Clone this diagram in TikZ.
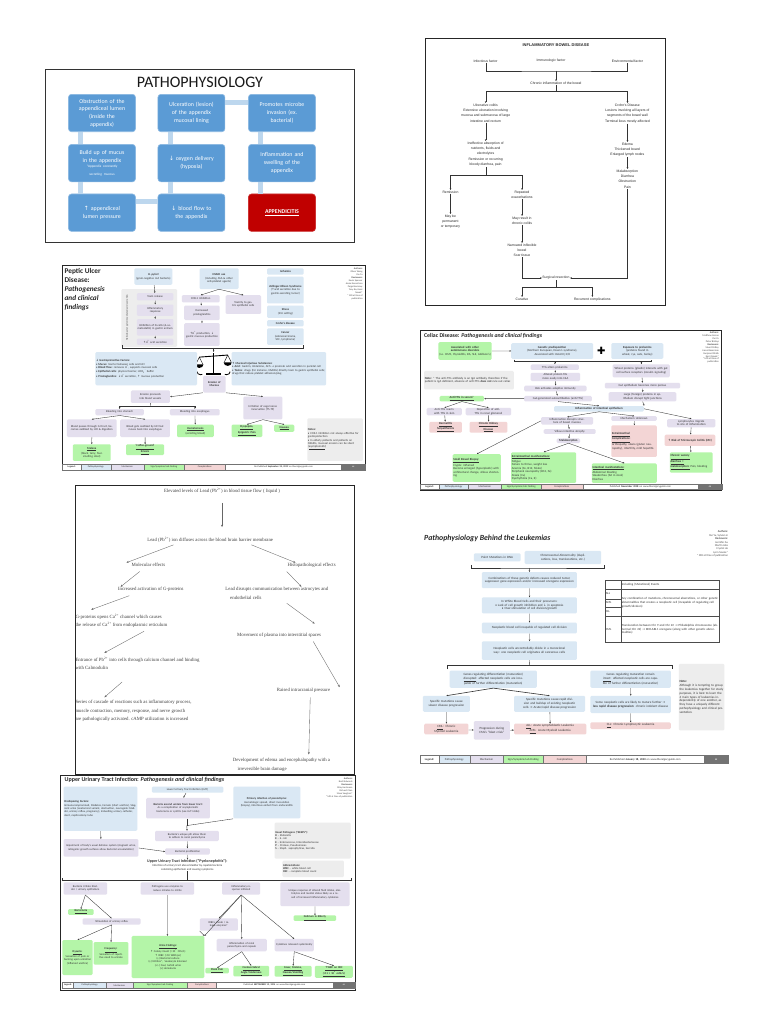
\documentclass[tikz,border=0pt]{standalone}
\usepackage{fontspec}
\setmainfont{Carlito}
\newfontfamily\serifr{Liberation Serif}
\newfontfamily\arialf{Liberation Sans}
\newfontfamily\djv{DejaVu Sans}
\usetikzlibrary{arrows.meta,calc}
\newcommand\uarr{{\djv ↑}}
\newcommand\darr{{\djv ↓}}
\newcommand\rarr{{\djv →}}
\definecolor{apblue}{HTML}{5B9BD5}
\definecolor{apbarc}{HTML}{BDD7EE}
\definecolor{apred}{HTML}{C00000}
\definecolor{cgpp}{HTML}{DAE8F4}
\definecolor{cgme}{HTML}{E4DFEE}
\definecolor{cgsg}{HTML}{B4F5A8}
\definecolor{cgco}{HTML}{F3D5D5}
\definecolor{cgno}{HTML}{EDEDED}
\definecolor{inkc}{HTML}{333333}
\def\psx{1}\def\psy{1}
\newcommand\mkbox[7]{%
  \pgfmathsetmacro\mkw{(#5-#3)*\psx}%
  \pgfmathsetmacro\mkh{(#6-#4)*\psy}%
  \pgfmathsetmacro\mktw{max((#5-#3)*\psx-1.4,1)}%
  \node[#2, anchor=north west, minimum width=\mkw pt, minimum height=\mkh pt, text width=\mktw pt] (#1) at (#3,#4) {#7};}
\newcommand\mkleg[9]{%
  \mkbox{#1l0}{lg}{#4}{#2}{#5}{#3}{\textbf{Legend:}}%
  \mkbox{#1l1}{lg,fill=cgpp}{#5}{#2}{#6}{#3}{Pathophysiology}%
  \mkbox{#1l2}{lg,fill=cgme}{#6}{#2}{#7}{#3}{Mechanism}%
  \mkbox{#1l3}{lg,fill=cgsg}{#7}{#2}{#8}{#3}{Sign/Symptom/Lab Finding}%
  \mkbox{#1l4}{lg,fill=cgco}{#8}{#2}{#9}{#3}{Complications}}
\newcommand\mklegb[7]{%
  \mkbox{#1l5}{lg}{#4}{#2}{#5}{#3}{#7}%
  \mkbox{#1l6}{lg,fill=black!55,text=white}{#5}{#2}{#6}{#3}{\textbf{cc}}}
\tikzset{
 panelframe/.style={draw=black!85, line width=0.7pt},
 apbox/.style={rounded corners=3pt, fill=apblue, draw=apblue!70!white, line width=0.6pt, text=white, align=center, font=\fontsize{5.9}{7.7}\selectfont, minimum width=67pt, minimum height=37.4pt, text width=63pt, inner sep=1pt},
 apbar/.style={draw=apbarc, line width=5pt},
 ibd/.style={font=\arialf\fontsize{3.4}{5.4}\selectfont, align=center, inner sep=0.4pt, text=black!85},
 iar/.style={draw=black!80, line width=0.35pt},
 iarr/.style={iar, -{Stealth[length=1.8pt,width=1.6pt]}},
 cg/.style={rounded corners=1.2pt, inner sep=0.6pt, align=center, font=\fontsize{2.5}{3}\selectfont, text=inkc},
 cgl/.style={cg, align=left},
 arr/.style={-{Stealth[length=1.7pt,width=1.5pt]}, line width=0.35pt, draw=black!80},
 ln/.style={line width=0.35pt, draw=black!80},
 lg/.style={draw=black!55, line width=0.2pt, inner sep=0.3pt, align=center, font=\fontsize{2.1}{2.5}\selectfont, text=inkc},
 auth/.style={anchor=north east, align=right, inner sep=0, font=\fontsize{2.1}{2.6}\selectfont, text=black!70},
 leadt/.style={font=\serifr\fontsize{4.8}{8.6}\selectfont, inner sep=0.3pt, text=black!75, align=left},
 larr/.style={-{Stealth[length=2.4pt,width=2pt]}, line width=0.35pt, draw=black!60},
 tbl/.style={draw=black!70, line width=0.25pt, inner sep=0.6pt, font=\fontsize{3.1}{3.7}\selectfont, text=inkc},
}
\begin{document}
\begin{tikzpicture}[x=1pt,y=-1pt]
\useasboundingbox (0,0) rectangle (768,1024);
\fill[white] (0,0) rectangle (768,1024);

% ================= PATHOPHYSIOLOGY (appendicitis)
\begin{scope}[shift={(45,70)}, xscale=1.065, yscale=1.012, shift={(-51,-70)}]
\draw[draw=black!80, line width=1pt] (51,70) rectangle (342,240);
\node[font=\fontsize{16}{16}\selectfont, text=black!90, inner sep=0] (apt) at (196.5,82) {PATHOPHYSIOLOGY};
\node[apbox] (ap1) at (104.5,112.5) {Obstruction of the\\appendiceal lumen\\(inside the\\appendix)};
\node[apbox] (ap2) at (104.5,162) {Build up of mucus\\in the appendix\\[1pt]{\fontsize{3.4}{4.2}\selectfont *Appendix constantly\\secreting mucous}};
\node[apbox] (ap3) at (104.5,211) {\uarr\ appendiceal\\lumen pressure};
\node[apbox] (ap4) at (188.5,211) {\darr\ blood flow to\\the appendix};
\node[apbox] (ap5) at (188.5,162) {\darr\ oxygen delivery\\(hypoxia)};
\node[apbox] (ap6) at (188.5,112.5) {Ulceration (lesion)\\of the appendix\\mucosal lining};
\node[apbox] (ap7) at (273.5,112.5) {Promotes microbe\\invasion (ex.\\bacterial)};
\node[apbox] (ap8) at (273.5,162) {Inflammation and\\swelling of the\\appendix};
\node[apbox, fill=apred, draw=apred!80!white] (ap9) at (273.5,211) {\textbf{\underline{APPENDICITIS}}};
\draw[apbar] ($(ap1.south west)+(12,0)$) -- ($(ap2.north west)+(12,0)$);
\draw[apbar] ($(ap2.south west)+(12,0)$) -- ($(ap3.north west)+(12,0)$);
\draw[apbar] ($(ap3.north east)+(0,8)$) -- ($(ap4.north west)+(0,8)$);
\draw[apbar] ($(ap4.north west)+(12,0)$) -- ($(ap5.south west)+(12,0)$);
\draw[apbar] ($(ap5.north west)+(12,0)$) -- ($(ap6.south west)+(12,0)$);
\draw[apbar] ($(ap6.north east)+(0,8)$) -- ($(ap7.north west)+(0,8)$);
\draw[apbar] ($(ap7.south west)+(12,0)$) -- ($(ap8.north west)+(12,0)$);
\draw[apbar] ($(ap8.south west)+(12,0)$) -- ($(ap9.north west)+(12,0)$);
\end{scope}

% ================= IBD
\begin{scope}[shift={(425,38)}, xscale=1.212, shift={(-424,-38)}]
\draw[draw=black!85, line width=0.6pt] (424,38) rectangle (622,305);
\node[ibd, font=\arialf\bfseries\fontsize{4}{4.5}\selectfont] (ibt) at (532,45) {INFLAMMATORY BOWEL DISEASE};
\node[ibd] (ib1) at (474,61) {Infectious factor};
\node[ibd] (ib2) at (528,61) {Immunologic factor};
\node[ibd] (ib3) at (591,61) {Environmental factor};
\coordinate (ibj1) at (532,71);
\draw[iar] (ib1.south) |- (ibj1) -| (ib3.south);
\node[ibd] (ibch) at (532,83) {Chronic inflammation of the bowel};
\draw[iarr] (ibj1) -- (ibch.north);
\coordinate (ibj2) at (532,91);
\draw[iar] (ibch.south) -- (ibj2);
\node[ibd, anchor=north] (ibuc) at (474,103) {Ulcerative colitis\\Extensive ulceration involving\\mucosa and submucosa of large\\intestine and rectum};
\node[ibd, anchor=north] (ibcd) at (591,103) {Crohn's Disease\\Lesions involving all layers of\\segments of the bowel wall\\Terminal ileus mostly affected};
\draw[iarr] (ibj2) -| (ibuc.north);
\draw[iarr] (ibj2) -| (ibcd.north);
\node[ibd, anchor=north] (ibua) at (474,141) {Ineffective absorption of\\nutrients, fluids and\\electrolytes\\Remission or recurring\\bloody diarrhea, pain};
\draw[iarr] (ibuc.south) -- (ibua.north);
\node[ibd, anchor=north] (ibce) at (591,142) {Edema\\Thickened bowel\\Enlarged lymph nodes};
\draw[iarr] (ibcd.south) -- (ibce.north);
\node[ibd, anchor=north] (ibcm) at (591,169) {Malabsorption\\Diarrhea\\Obstruction\\Pain};
\draw[iarr] (ibce.south) -- (ibcm.north);
\coordinate (ibj3) at (474,175);
\draw[iar] (ibua.south) -- (ibj3);
\node[ibd, anchor=north] (ibrm) at (445,190) {Remission};
\node[ibd, anchor=north] (ibrx) at (504,190) {Repeated\\exacerbations};
\draw[iarr] (ibj3) -| (ibrm.north);
\draw[iarr] (ibj3) -| (ibrx.north);
\node[ibd, anchor=north] (ibmp) at (445,214) {May be\\permanent\\or temporary};
\draw[iarr] (ibrm.south) -- (ibmp.north);
\node[ibd, anchor=north] (ibmc) at (504,216) {May result in\\chronic colitis};
\draw[iarr] (ibrx.south) -- (ibmc.north);
\node[ibd, anchor=north] (ibnb) at (504,243) {Narrowed inflexible\\bowel\\Scar tissue};
\draw[iarr] (ibmc.south) -- (ibnb.north);
\node[ibd] (ibsr) at (532,278) {Surgical resection};
\draw[iarr] (ibnb.south) |- (ibsr.west);
\draw[iarr] (ibcm.south) |- (ibsr.east);
\coordinate (ibj4) at (532,287);
\draw[iar] (ibsr.south) -- (ibj4);
\node[ibd, anchor=north] (ibcu) at (504,297) {Curative};
\node[ibd, anchor=north] (ibrc) at (562,297) {Recurrent complications};
\draw[iarr] (ibj4) -| (ibcu.north);
\draw[iarr] (ibj4) -| (ibrc.north);
\end{scope}

% ================= PEPTIC ULCER
\begin{scope}[shift={(62,265)}, xscale=1.184, yscale=1.035, shift={(-69,-269)}]
\def\psx{1.184}\def\psy{1.035}
\tikzset{cg/.append style={font=\fontsize{2.9}{3.4}\selectfont}, lg/.append style={font=\fontsize{2.4}{2.8}\selectfont}, auth/.append style={font=\fontsize{2.4}{3}\selectfont}}
\draw[panelframe] (69,269) rectangle (325,467);
\node[anchor=north west, font=\bfseries\fontsize{7.3}{8.9}\selectfont, text=black!85, align=left, inner sep=0] (put) at (71,272) {Peptic Ulcer\\Disease:\\\textit{Pathogenesis}\\\textit{and clinical}\\\textit{findings}};
\node[auth] (pua) at (323,272) {\textbf{Authors:}\\Oliver Wong\\Yan Yu\\\textbf{Reviewers:}\\Kevin Spenser\\Annie Kosovitson\\Paige Bevinney\\Tony Bu, Kami\\Novak*\\* MD at time of\\publication};
\mkbox{puhp}{cg,fill=cgpp}{130}{272}{162}{288}{\textbf{\textit{H. pylori}}\\(gram-negative rod bacteria)}
\mkbox{puhg}{cg,fill=cgno}{119}{292}{166}{348}{}
\node[rotate=90, font=\fontsize{2.6}{3}\selectfont, text=black!70, inner sep=0] (puvl) at (124,320) {Helicobacter pylori-mediated acid secretion};
\mkbox{putx}{cg,fill=cgme}{132}{296}{163}{303}{Toxin release}
\mkbox{puir}{cg,fill=cgme}{132}{307}{163}{318}{Inflammatory\\response}
\mkbox{puid}{cg,fill=cgme}{132}{321}{163}{337}{Inhibition of D-cells (\& somatostatin) in gastric antrum}
\mkbox{puha}{cg,fill=cgme}{132}{340}{163}{346}{\uarr H\textsuperscript{+} acid secretion}
\draw[arr] (puhp) -- (putx);
\draw[arr] (putx) -- (puir);
\draw[arr] (puir) -- (puid);
\draw[arr] (puid) -- (puha);
\mkbox{puns}{cg,fill=cgpp}{185}{272}{218}{292}{\textbf{NSAID use}\\(including ASA \& other anti-platelet agents)}
\mkbox{puc1}{cg,fill=cgme}{170}{298}{202}{305}{COX-1 inhibition}
\mkbox{putc}{cg,fill=cgme}{207}{298}{237}{316}{Toxicity to gastric epithelial cells}
\mkbox{pudp}{cg,fill=cgme}{172}{308}{202}{322}{Decreased\\prostaglandins}
\mkbox{puhm}{cg,fill=cgme}{172}{325}{202}{347}{\uarr H\textsuperscript{+} production, \darr\ gastric mucous production}
\draw[arr] (puns.south) -- (puc1.north);
\draw[arr] (puns.south) -- (putc.north);
\draw[arr] (puc1) -- (pudp);
\draw[arr] (pudp) -- (puhm);
\mkbox{puis}{cg,fill=cgpp}{242}{272}{273}{278}{\textbf{Ischemia}}
\mkbox{puze}{cg,fill=cgpp}{242}{280}{273}{306}{\textbf{Zollinger-Ellison Syndrome}\\(\uarr acid secretion due to gastrin-secreting tumor)}
\mkbox{pust}{cg,fill=cgpp}{242}{308}{273}{320}{\textbf{Stress}\\(ICU setting)}
\mkbox{pucr}{cg,fill=cgpp}{242}{322}{273}{328}{\textbf{Crohn's disease}}
\mkbox{puca}{cg,fill=cgpp}{242}{330}{273}{346}{\textbf{Cancer}\\(adenocarcinoma, SCC, lymphoma)}
\coordinate (pub1) at (120,346); \coordinate (pub2) at (273,346); \coordinate (pubc) at (197,349);
\draw[ln] (pub1) |- (pubc) -| (pub2);
\coordinate (pusc) at (197,353);
\draw[arr] (pubc) -- (pusc);
\draw[line width=1.2pt] (197,354) -- (197,374);
\draw[line width=1.6pt] (191,374.5) -- (203,374.5);
\draw[line width=0.9pt] (185,358) -- (209,356);
\draw[line width=0.4pt] (182,365) -- (185,358) -- (188,365) (206,363) -- (209,356) -- (212,363);
\fill (181.5,365) arc[start angle=180, end angle=0, radius=3.5] -- cycle;
\fill (205.5,363) arc[start angle=180, end angle=0, radius=3.5] -- cycle;
\draw[line width=0.8pt] (183,372) arc[start angle=180, end angle=60, radius=3];
\draw[line width=0.8pt] (211,372) arc[start angle=0, end angle=120, radius=3];
\mkbox{pugf}{cgl,fill=cgpp}{97}{353}{183}{385}{\textbf{\darr\ Gastroprotective Factors:}\\• \textbf{Mucus}: barrier between cells and HCl\\• \textbf{Blood flow}: removes H\textsuperscript{+}, supports mucosal cells\\• \textbf{Epithelial cells}: physical barrier, HCO\textsubscript{3}\textsuperscript{-} buffer\\• \textbf{Prostaglandins}: \darr H\textsuperscript{+} secretion, \uarr\ mucous production}
\mkbox{pumi}{cgl,fill=cgpp}{212}{353}{292}{385}{\textbf{\uarr\ Mucosal Injurious Substances:}\\• \textbf{Acid}: Gastrin, Histamine, ACh \rarr\ promote acid secretion in parietal cell\\• \textbf{Toxins}: drugs (for instance, NSAIDs) directly toxic to gastric epithelial cells; drugs that reduce platelet adhesion/plug}
\mkbox{puer}{cg,fill=cgme}{188}{376}{207}{392}{\textbf{Erosion of Mucosa}}
\mkbox{puep}{cg,fill=cgme}{127}{390}{160}{402}{Erosion proceeds into blood vessels}
\mkbox{puiv}{cg,fill=cgme}{222}{396}{255}{418}{Irritation of vagal nerve innervation (T5-T9)}
\draw[arr] (puer.south west) -- (puep.east);
\draw[arr] (puer.south east) -- (puiv.north);
\mkbox{pubs}{cg,fill=cgme}{97}{408}{138}{414}{Bleeding into stomach}
\mkbox{pube}{cg,fill=cgme}{160}{408}{202}{414}{Bleeding into esophagus}
\coordinate (pubj) at (143.5,405);
\draw[ln] (puep.south) -- (pubj);
\draw[arr] (pubj) -| (pubs.north);
\draw[arr] (pubj) -| (pube.north);
\mkbox{pub1b}{cg,fill=cgme}{73}{418}{115}{435}{Blood passes through GI tract, becomes oxidized by HCl \& digestion}
\mkbox{pub2b}{cg,fill=cgme}{118}{418}{160}{435}{Blood gets oxidized by HCl but moves back into esophagus}
\draw[arr] (pubs.south) -- (pub1b.north);
\draw[arr] (pubs.south) -- (pub2b.north);
\mkbox{pume}{cg,fill=cgsg}{78}{442}{110}{458}{\textbf{\underline{Melena}}\\(black, tarry, foul-smelling stool)}
\mkbox{pucg}{cg,fill=cgsg}{123}{442}{155}{451}{\textbf{\underline{`Coffee-ground'}}\\\textbf{\underline{Emesis}}}
\mkbox{puhe}{cg,fill=cgsg}{166}{423}{197}{435}{\textbf{\underline{Hematemesis}}\\(vomiting blood)}
\mkbox{pudy}{cg,fill=cgsg}{212}{423}{238}{435}{\textbf{\underline{Dyspepsia,}}\\\textbf{\underline{Epigastric Pain}}}
\mkbox{puna}{cg,fill=cgsg}{248}{423}{265}{430}{\textbf{\underline{Nausea}}}
\draw[arr] (pub1b) -- (pume);
\draw[arr] (pub2b) -- (pucg);
\draw[arr] (pube) -- (puhe);
\draw[arr] (puiv.south) -- (pudy.north);
\draw[arr] (puiv.south) -- (puna.north);
\mkbox{punt}{cgl,fill=cgno}{276}{417}{323}{458}{\textbf{Notes:}\\• COX-1 inhibitors not always effective for gastroprotection\\• In elderly patients and patients on NSAIDs, mucosal erosion can be silent (\underline{asymptomatic})}
\mkleg{pu}{461}{467}{69}{85}{110}{138}{172}{207}
\mklegb{pu}{461}{467}{207}{305}{325}{Re-Published \textbf{September 25, 2019} on thecalgaryguide.com}
\end{scope}

% ================= CELIAC
\begin{scope}[shift={(420,330)}, xscale=1.3, yscale=0.925, shift={(-420,-331)}]
\def\psx{1.3}\def\psy{0.925}
\tikzset{cg/.append style={font=\fontsize{3}{3.5}\selectfont}, lg/.append style={font=\fontsize{2.6}{3}\selectfont}, auth/.append style={font=\fontsize{2.5}{2.9}\selectfont}}
\draw[panelframe] (420,331) rectangle (652,504);
\node[anchor=west, font=\bfseries\fontsize{5.8}{6}\selectfont, text=black!85, inner sep=0] (cet) at (423,337) {Celiac Disease: \textit{Pathogenesis and clinical findings}};
\node[auth] (cea) at (650,333) {\textbf{Authors:}\\Matthew Inscoe\\Yan Yu\\Peter Bishop\\\textbf{Reviewers:}\\Stuart Pettey\\Jason Baserman\\Gurpreet Malik\\Kerri Novak*\\* MD at time of\\publication};
\mkbox{ceao}{cg,fill=cgsg}{434}{344}{475}{363}{\textbf{Associated with other autoimmune disorders}\\(i.e. DM1, thyroiditis, RA, SLE, Addison's)}
\mkbox{cegp}{cg,fill=cgpp}{490}{345}{553}{362}{\textbf{Genetic predisposition}\\(Northern European, Down's syndrome),\\Associated with HLA-DQ 2/8}
\node[font=\djv\fontsize{10}{10}\selectfont, inner sep=0] (cepl) at (559.5,353.5) {✚};
\mkbox{ceex}{cg,fill=cgpp}{567}{345}{607}{362}{\textbf{Exposure to prolamins}\\(proteins found in wheat, rye, oats, barley)}
\draw[arr] (ceao) -- (cegp);
\coordinate (ceb1) at (492,363); \coordinate (ceb2) at (598,363); \coordinate (cebc) at (545,365);
\draw[ln] (ceb1) |- (cebc) -| (ceb2);
\mkbox{ce1}{cg,fill=cgme}{505}{368}{542}{374}{TTG alters prolamins}
\mkbox{ce2}{cg,fill=cgme}{505}{377}{543}{386}{Altered protein fits more easily into HLA}
\mkbox{ce3}{cg,fill=cgme}{500}{391}{548}{397}{HLA activates adaptive immunity}
\mkbox{ce4}{cg,fill=cgme}{500}{402}{552}{408}{Gut-generated autoantibodies (anti-TTG)}
\mkbox{cw1}{cg,fill=cgme}{568}{368}{612}{382}{Wheat proteins (gliadin) interacts with gut cell surface receptors (zonulin signaling)}
\mkbox{cw2}{cg,fill=cgme}{562}{388}{620}{394}{Gut epithelium becomes more porous}
\mkbox{cw3}{cg,fill=cgme}{565}{398}{617}{408}{Large (foreign) proteins in epithelium disrupt tight junctions}
\draw[arr] (cebc -| ce1.north) -- (ce1.north);
\draw[arr] (cebc -| cw1.north) -- (cw1.north);
\draw[arr] (ce1) -- (ce2);
\draw[arr] (ce2) -- (ce3);
\draw[arr] (ce3) -- (ce4);
\draw[arr] (cw1) -- (cw2);
\draw[arr] (cw2) -- (cw3);
\mkbox{cent}{cgl,fill=cgno}{423}{375}{492}{395}{\textbf{Note:} * The anti-TTG antibody is an IgA antibody, therefore if the patient is IgA deficient, absence of anti-TTG \textbf{does not} rule out celiac}
\mkbox{ceat}{cg,fill=cgsg}{435}{402}{469}{408}{\textbf{\underline{Anti-TTG in serum*}}}
\draw[arr] (ce4) -- (ceat);
\mkbox{cein}{cg,fill=cgpp}{523}{413}{592}{419}{\textbf{Inflammation of intestinal epithelium}}
\draw[arr] (ce4.south) -- (cein.north);
\draw[arr] (cw3.south) -- (cein.north east);
\mkbox{ces1}{cg,fill=cgme}{425}{415}{452}{423}{Anti-TTG reacts with TTG in skin}
\mkbox{ces2}{cg,fill=cgme}{455}{415}{490}{423}{Deposition of anti-TTG in renal glomeruli}
\draw[arr] (ceat.south) -- (ces1.north);
\draw[arr] (ceat.south) -- (ces2.north);
\mkbox{ced1}{cg,fill=cgco}{427}{430}{452}{440}{\textbf{\underline{Dermatitis}}\\\textbf{\underline{herpetiformis}}}
\mkbox{ced2}{cg,fill=cgco}{458}{430}{487}{440}{\textbf{\underline{Chronic Kidney}}\\\textbf{\underline{Disease}}}
\draw[arr] (ces1) -- (ced1);
\draw[arr] (ces2) -- (ced2);
\mkbox{ceid}{cg,fill=cgme}{513}{425}{553}{433}{Inflammation disrupts structure of bowel mucosa}
\mkbox{cemu}{cg,fill=cgme}{567}{424}{602}{429}{Mechanism Unknown}
\mkbox{cely}{cg,fill=cgme}{610}{427}{647}{436}{Lymphocytes migrate to site of inflammation}
\draw[arr] (cein.south) -- (ceid.north);
\draw[arr] (cein.south) -- (cemu.north);
\draw[arr] (cein.east) -- (cely.north);
\mkbox{ceva}{cg,fill=cgme}{515}{438}{555}{443}{Villous intestine atrophy}
\mkbox{cema}{cg,fill=cgme}{525}{448}{543}{453}{\textbf{Malabsorption}}
\draw[arr] (ceid) -- (ceva);
\draw[arr] (ceva) -- (cema);
\mkbox{cecx}{cgl,fill=cgco}{567}{434}{602}{468}{\textbf{\underline{Extraintestinal}}\\\textbf{\underline{Complications:}}\\Arthropathy, ataxia (gluten neuropathy), infertility, mild hepatitis}
\draw[arr] (cemu) -- (cecx);
\mkbox{cerk}{cg,fill=cgco}{608}{444}{647}{456}{\textbf{\uarr\ Risk of Microscopic Colitis (MC)}}
\mkbox{cewd}{cgl,fill=cgsg}{612}{463}{645}{485}{\textbf{\underline{Chronic watery}}\\\textbf{\underline{diarrhea =}}\\\textbf{\underline{malabsorption:}} Pain, bloating}
\draw[arr] (cely) -- (cerk);
\draw[arr] (cerk) -- (cewd);
\mkbox{cesb}{cgl,fill=cgsg}{445}{465}{482}{495}{\textbf{\underline{Small Bowel Biopsy:}}\\Crypts: inflamed\\Become enlarged (hyperplastic) with architectural change, villous shortening}
\mkbox{ceem}{cgl,fill=cgsg}{490}{463}{540}{496}{\textbf{\underline{Extraintestinal manifestations:}}\\Fatigue\\Failure to thrive, weight loss\\Anemia (Fe, B12, folate)\\Peripheral neuropathy (B12, Fe)\\Ataxia (Cu)\\Dysrhythmia (Ca, K)}
\mkbox{ceim}{cgl,fill=cgsg}{552}{475}{602}{496}{\textbf{\underline{Intestinal manifestations:}}\\Abdominal bloating\\Steatorrhea (fat in stool)\\Diarrhea}
\draw[arr] (ceid.west) -- (cesb.north);
\draw[arr] (cema.south) -- (ceem.north);
\draw[arr] (cema.south) -- (ceim.north);
\mkleg{ce}{497.5}{503}{420}{434.5}{457}{482.5}{513}{545}
\mklegb{ce}{497.5}{503}{545}{634}{652}{Published \textbf{November 2018} on www.thecalgaryguide.com}
\end{scope}

% ================= LEAD
\begin{scope}[shift={(75,485)}, xscale=1.47, yscale=1.27, shift={(-78,-483)}]
\draw[draw=black!85, line width=0.6pt] (78,483) rectangle (268,711);
\node[leadt] (le1) at (178,488) {Elevated levels of Lead (Pb\textsuperscript{2+}) in blood tissue flow ( liquid )};
\node[leadt] (le2) at (170,526) {Lead (Pb\textsuperscript{2+}) ion diffuses across the blood brain barrier membrane};
\node[leadt] (le3) at (128,546) {Molecular effects};
\node[leadt] (le4) at (239,546) {Histopathological effects};
\node[leadt, anchor=west] (le5) at (107,565) {Increased activation of G-proteins};
\node[leadt, anchor=north west] (le6) at (180,563) {Lead disrupts communication between astrocytes and\\\quad endothelial cells};
\node[leadt, anchor=north west] (le7) at (78,584) {G-proteins opens Ca\textsuperscript{2+} channel which causes\\the release of Ca\textsuperscript{2+} from endoplasmic reticulum};
\node[leadt, anchor=west] (le8) at (188,601) {Movement of plasma into interstitial spaces};
\node[leadt, anchor=north west] (le9) at (78,618) {Entrance of Pb\textsuperscript{2+} into cells through calcium channel and binding\\with Calmodulin};
\node[leadt, anchor=west] (le10) at (215,645) {Raised intracranial pressure};
\node[leadt, anchor=north west] (le11) at (78,652) {Series of cascade of reactions such as inflammatory process,\\muscle contraction, memory, response, and nerve growth\\are pathologically activated. cAMP utilization is increased};
\node[leadt, anchor=north west] (le12) at (185,698) {Development of edema and encephalopathy with a\\\quad irreversible brain damage};
\foreach \n/\a/\b/\c/\d in {1/178/497/178/516, 2/145/530/113/544, 3/198/530/228/544, 4/122/551/109/563, 5/222/551/232/563, 6/115/570/89/581, 7/222/576/241/592, 8/125/598/98/615, 9/240/606/258/642, 10/110/638/98/650, 11/238/650/237/695}{
  \coordinate (las\n) at (\a,\b); \coordinate (lae\n) at (\c,\d);
  \draw[larr] (las\n) -- (lae\n);}
\end{scope}

% ================= LEUKEMIAS
\begin{scope}[shift={(420,532)}, xscale=1.34, yscale=1.33, shift={(-428,-537)}]
\def\psx{1.34}\def\psy{1.33}
\tikzset{cg/.append style={font=\fontsize{3.2}{3.8}\selectfont}, lg/.append style={font=\fontsize{2.8}{3.2}\selectfont}, auth/.append style={font=\fontsize{2.8}{3.4}\selectfont}}
\node[anchor=west, font=\bfseries\itshape\fontsize{7.8}{8}\selectfont, text=black!85, inner sep=0] (lkt) at (431,542) {Pathophysiology Behind the Leukemias};
\node[auth] (lka) at (658,536) {\textbf{Authors:}\\Yan Yu, Sylvia Lin\\\textbf{Reviewers:}\\Jennifer Au\\Martin Jabs\\Crystal Ho\\Lynn Savoie*\\* MD at time of publication};
\mkbox{lkpm}{cg,fill=cgpp}{468}{553}{503}{559}{Point Mutations in DNA}
\mkbox{lkca}{cg,fill=cgpp}{506}{551}{563}{561}{Chromosomal Abnormality (duplications, loss, translocations, etc.)}
\coordinate (lkb1) at (466,562); \coordinate (lkb2) at (565,562); \coordinate (lkbc) at (509.5,564);
\draw[ln] (lkb1) |- (lkbc) -| (lkb2);
\mkbox{lkc1}{cg,fill=cgpp}{474}{567}{545}{579}{Combinations of these genetic defects causes reduced tumor suppressor gene expression and/or increased oncogene expression}
\mkbox{lkc2}{cg,fill=cgpp}{474}{586}{545}{598}{In White Blood Cells and their precursors:\\• Lack of cell growth inhibition and \darr\ in apoptosis\\• Over-stimulation of cell division/growth}
\mkbox{lkc3}{cg,fill=cgpp}{474}{605}{545}{613}{Neoplastic blood cell incapable of regulated cell division}
\mkbox{lkc4}{cg,fill=cgpp}{474}{619}{545}{633}{Neoplastic cells uncontrollably divide in a monoclonal way: one neoplastic cell originates all cancerous cells}
\draw[arr] (lkbc) -- (lkc1.north);
\draw[arr] (lkc1) -- (lkc2);
\draw[arr] (lkc2) -- (lkc3);
\draw[arr] (lkc3) -- (lkc4);
\coordinate (lkd1) at (448,640); \coordinate (lkd2) at (616,640); \coordinate (lkdc) at (509.5,637);
\draw[ln] (lkd1) |- (lkdc) -| (lkd2);
\draw[ln] (lkc4.south) -- (lkdc);
\mkbox{lkgd}{cg,fill=cgpp}{450}{641}{515}{654}{Genes regulating differentiation (maturation) \underline{disrupted}: affected neoplastic cells are incapable of further differentiation (maturation)}
\mkbox{lkgm}{cg,fill=cgpp}{555}{641}{615}{654}{Genes regulating maturation remain \underline{intact}: affected neoplastic cells are capable of further differentiation (maturation)}
\mkbox{lks1}{cg,fill=cgpp}{430}{660}{465}{672}{Specific mutations cause slower disease progression}
\mkbox{lks2}{cg,fill=cgpp}{498}{660}{551}{672}{Specific mutations cause rapid division and buildup of existing neoplastic cells \rarr\ Acute/rapid disease progression}
\mkbox{lks3}{cg,fill=cgpp}{555}{660}{615}{673}{Some neoplastic cells are likely to mature further \rarr\ \textbf{less rapid disease progression}: chronic indolent disease}
\draw[arr, line width=0.6pt] (lkgd.south) -- (lks1.north);
\draw[arr, line width=0.6pt] (lkgd.south) -- (lks2.north);
\draw[arr] (lkgm) -- (lks3);
\mkbox{lkcm}{cg,fill=cgco}{431}{681}{464}{689}{\underline{CML}: Chronic Myeloid Leukemia}
\mkbox{lkbc}{cg,fill=cgme}{468}{679}{495}{693}{Progression during CML's ``blast crisis''}
\mkbox{lkal}{cg,fill=cgco}{498}{681}{552}{689}{\underline{ALL}: Acute Lymphoblastic Leukemia\\\underline{AML}: Acute Myeloid Leukemia}
\mkbox{lkcl}{cg,fill=cgco}{555}{680}{615}{685}{\underline{CLL}: Chronic Lymphocytic Leukemia}
\draw[arr] (lks1) -- (lkcm);
\draw[arr] (lks2) -- (lkal);
\draw[arr] (lks3) -- (lkcl);
\draw[arr] (lkcm) -- (lkbc);
\draw[arr] (lkbc) -- (lkal);
\mkbox{lknt}{cgl,fill=cgno}{621}{636}{655}{686}{\textbf{Note:}\\Although it is tempting to group the leukemias together for study purposes, it is best to learn the 4 main types of leukemias independently of one another, as they have a uniquely different pathophysiology and clinical presentation.}
\mkbox{lkt0}{tbl}{566}{573}{578}{580}{}
\mkbox{lkth}{tbl}{578}{573}{651}{580}{Including (Mutational) Events}
\mkbox{lkta}{tbl}{566}{580}{578}{587}{ALL}
\mkbox{lktb}{tbl}{566}{587}{578}{593.5}{AML}
\mkbox{lktc}{tbl}{566}{593.5}{578}{600}{CLL}
\mkbox{lktx}{tbl,align=left}{578}{580}{651}{600}{Any combination of mutations, chromosomal aberrations, or other genetic abnormalities that creates a neoplastic cell (incapable of regulating cell growth/division)}
\mkbox{lktd}{tbl}{566}{600}{578}{620}{CML}
\mkbox{lkty}{tbl,align=left}{578}{600}{651}{620}{Translocation between Chr 9 and Chr 22 \rarr\ Philadelphia chromosome (abnormal Chr 22) \rarr\ BCR-ABL1 oncogene (along with other genetic abnormalities)}
\mkleg{lk}{705}{711}{428}{442}{465}{490}{520}{552}
\mklegb{lk}{705}{711}{552}{640}{658}{Re-Published \textbf{January 18, 2020} on www.thecalgaryguide.com}
\end{scope}

% ================= UPPER UTI
\begin{scope}[shift={(60,775)}, xscale=1.117, yscale=1.03, shift={(-56,-748)}]
\def\psx{1.117}\def\psy{1.03}
\tikzset{cg/.append style={font=\fontsize{2.8}{3.3}\selectfont}, lg/.append style={font=\fontsize{2.4}{2.8}\selectfont}, auth/.append style={font=\fontsize{2.4}{2.9}\selectfont}}
\draw[panelframe] (56,748) rectangle (320,957);
\node[anchor=west, font=\bfseries\fontsize{6}{6.5}\selectfont, text=black!85, inner sep=0] (utt) at (60,753) {Upper Urinary Tract Infection: \textit{Pathogenesis and clinical findings}};
\node[auth] (uta) at (318,751) {\textbf{Authors:}\\Brett Edwards\\\textbf{Reviewers:}\\Riley Hartmann\\Richard Chan\\Steve Vaughan*\\* MD at time of publication};
\mkbox{upf}{cgl,fill=cgpp}{59}{759}{125}{802}{\textbf{Predisposing Factors:}\\Immunocompromised, Diabetes, Female (short urethra), Stagnant urine (anatomical variant, obstruction, neurogenic bladder, urinary reflux, pregnancy), Indwelling urinary catheter, stent, nephrostomy tube}
\mkbox{ulu}{cg,fill=cgpp}{138}{759}{202}{765}{Lower Urinary Tract Infection (LUTI)}
\mkbox{uba}{cg,fill=cgme}{133}{770}{190}{790}{\textbf{Bacteria ascend ureters from lower tract:}\\As a complication of asymptomatic bacteriuria or cystitis (see LUTI slide)}
\mkbox{upi}{cg,fill=cgpp}{211}{759}{271}{790}{\textbf{Primary infection of parenchyma:}\\Hematologic spread, direct inoculation (biopsy), infectious emboli from endocarditis}
\draw[arr] (ulu) -- (uba);
\coordinate (uj1) at (169.5,797);
\draw[ln] (uba.south -| uj1) -- (uj1);
\draw[ln] (upi.south west) -- (uj1);
\mkbox{upl}{cg,fill=cgme}{141}{802}{198}{812}{Bacteria's unique pili allow them to adhere to renal parenchyma}
\draw[arr] (uj1) -- (upl.north);
\mkbox{uim}{cg,fill=cgme}{59}{810}{126}{827}{Impairment of body's usual defense system (stagnant urine, iatrogenic growth surfaces allow bacterial accumulation)}
\draw[arr] (upf) -- (uim);
\mkbox{ubp}{cg,fill=cgme}{150}{819}{190}{825}{Bacterial proliferation}
\draw[arr] (upl) -- (ubp);
\draw[arr] (uim.east) -- (ubp.west);
\node[anchor=north, align=center, inner sep=0.3pt, font=\fontsize{2.9}{3.6}\selectfont, text=inkc] (uut) at (170,830) {{\bfseries\fontsize{4}{4.6}\selectfont Upper Urinary Tract Infection (``Pyelonephritis''):}\\Infection of urinary tract above bladder by capable bacteria\\colonizing epithelium and causing symptoms};
\draw[arr] (ubp) -- (uut);
\mkbox{uke}{cgl,fill=cgno}{248}{794}{316}{829}{\textbf{Usual Pathogens (``KEEPS''):}\\\textbf{K} – Klebsiella\\\textbf{E} – E. coli\\\textbf{E} – Enterococcus, Enterobacteriaceae\\\textbf{P} – Proteus, Pseudomonas\\\textbf{S} – Staph. saprophyticus, Serratia}
\mkbox{uab}{cgl,fill=cgno}{255}{831}{310}{847}{\textbf{Abbreviations:}\\\textbf{WBC} – white blood cell\\\textbf{CBC} – complete blood count}
\coordinate (ubr1) at (58,848); \coordinate (ubr2) at (317,848); \coordinate (ubrc) at (170,850);
\draw[ln] (ubr1) |- (ubrc) -| (ubr2);
\draw[ln] (uut.south) -- (ubrc);
\mkbox{ubi}{cg,fill=cgme}{59}{852}{98}{864}{Bacteria irritate bladder / urinary epithelium}
\mkbox{upn}{cg,fill=cgme}{128}{852}{176}{864}{Pathogens use enzymes to reduce nitrates to nitrite}
\mkbox{uir}{cg,fill=cgme}{201}{852}{235}{864}{Inflammatory response initiated}
\mkbox{uur}{cg,fill=cgme}{253}{852}{315}{875}{Unique response of altered fluid intake, electrolytes and mental status likely as a result of increased inflammatory cytokines}
\mkbox{ubu}{cg,fill=cgsg}{63}{878}{86}{883.5}{\textbf{\underline{Bacteriuria}}}
\mkbox{usr}{cg,fill=cgme}{76}{887}{128}{893}{Stimulation of urinary reflex}
\mkbox{uwb}{cg,fill=cgme}{181}{887}{215}{899}{WBCs create / release enzymes*}
\mkbox{ude}{cg,fill=cgsg}{265}{884}{303}{889.5}{\textbf{\underline{Delirium in Elderly}}}
\draw[arr] (ubi.south) -- (ubu.north);
\draw[arr] (ubi.south) -- (usr.north);
\draw[arr] (uur) -- (ude);
\mkbox{udy}{cg,fill=cgsg}{58}{908}{85}{942}{\textbf{\underline{Dysuria:}}\\Sensation of pain or burning upon urination (inflamed urethra)}
\mkbox{ufr}{cg,fill=cgsg}{86}{910}{117}{932}{\textbf{\underline{Frequency:}}\\Sensation of repetitive need to urinate}
\draw[arr] (usr.south) -- (udy.north);
\draw[arr] (usr.south) -- (ufr.north);
\mkbox{uuf}{cg,fill=cgsg}{120}{904}{185}{945}{\textbf{\underline{Urine Findings:}}\\\uarr\ Colony Count (>10\textsuperscript{5} CFU/L)\\\uarr\ WBC (>10 WBC/µL)\\(+) Bacterial culture\\(+) Nitrites*, `Leukocyte Esterase'\\(+/-) Foul, turbid urine\\(+) Hematuria}
\draw[arr] (upn) -- (uuf.north -| upn);
\draw[arr] (uir.south) -- (uuf.north east);
\draw[arr] (uir.south) -- (uwb.north);
\draw[arr] (uwb.south west) -- (uuf.north east);
\mkbox{uin}{cg,fill=cgme}{196}{907}{241}{919}{Inflammation of renal parenchyma and capsule}
\mkbox{ucy}{cg,fill=cgme}{248}{907}{283}{919}{Cytokines released systemically}
\draw[arr] (uir.south) -- (uin.north);
\draw[arr] (uir.south) -- (ucy.north);
\mkbox{ufp}{cg,fill=cgsg}{186}{935}{207}{940.5}{\textbf{\underline{Flank Pain}}}
\mkbox{ucv}{cg,fill=cgsg}{211}{933}{243}{943}{\textbf{\underline{Costovertebral}}\\\textbf{\underline{Angle Tenderness}}}
\mkbox{ufe}{cg,fill=cgsg}{248}{933}{281}{943}{\textbf{\underline{Fever, Malaise,}}\\\textbf{\underline{Nausea/Vomiting}}}
\mkbox{uwc}{cg,fill=cgsg}{284}{933}{318}{943}{\textbf{\underline{\uarr WBC on CBC}}\\\textbf{\underline{(>11 × 10\textsuperscript{9} cells/L)}}}
\draw[arr] (uin.south) -- (ufp.north);
\draw[arr] (uin.south) -- (ucv.north);
\draw[arr] (ucy.south) -- (ufe.north);
\draw[arr] (ucy.south) -- (uwc.north);
\mkleg{ut}{949}{955}{58}{68}{97}{121}{170}{196}
\mklegb{ut}{949}{955}{196}{300}{320}{Published \textbf{SEPTEMBER 13, 2014} on www.thecalgaryguide.com}
\end{scope}
\end{tikzpicture}
\end{document}
